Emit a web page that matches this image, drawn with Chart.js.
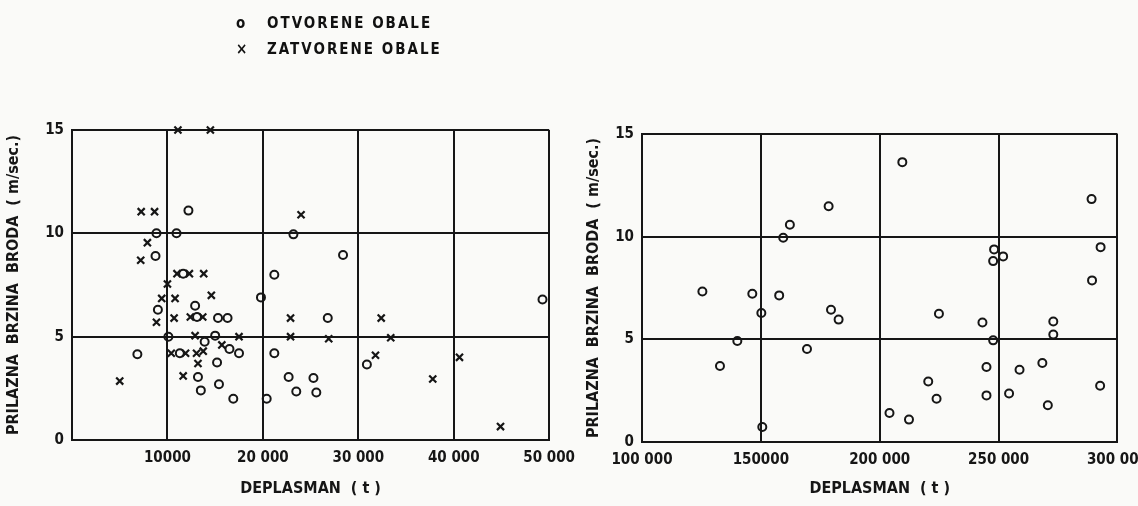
<!DOCTYPE html>
<html>
<head>
<meta charset="utf-8">
<script src="https://cdn.jsdelivr.net/npm/chart.js@4/dist/chart.umd.min.js"></script>
<style>
  body { margin: 0; background: #fafaf8; }
  #wrap { position: relative; width: 1138px; height: 506px; overflow: hidden; }
  #left { position: absolute; left: 0; top: 0; }
  #right { position: absolute; left: 580px; top: 0; }
  #legend {
    position: absolute; left: 236px; top: 10px;
    font: bold 15px 'Liberation Sans Narrow', 'DejaVu Sans Condensed', sans-serif;
    letter-spacing: 2px; color: #111; line-height: 26px;
  }
  #legend span { display: inline-block; width: 31px; }
</style>
</head>
<body>
<div id="wrap">
  <canvas id="left" width="584" height="506"></canvas>
  <canvas id="right" width="577" height="506"></canvas>
  <div id="legend">
    <div><span>o</span>OTVORENE OBALE</div>
    <div><span>×</span>ZATVORENE OBALE</div>
  </div>
</div>
<script>
'use strict'

// left panel: open coasts (circles)
const leftOpenX = [12200, 8850, 10950, 23200, 8750, 28400, 21200, 19800, 49300, 9000,
  12900, 15300, 16300, 26800, 10100, 15000, 13900, 16500, 17500, 21200,
  6850, 11300, 15200, 13200, 13500, 15400, 16900, 20400, 22700, 23500,
  25300, 25600, 30900, 11650, 13100]
const leftOpenY = [11.1, 10.0, 10.0, 9.95, 8.9, 8.95, 8.0, 6.9, 6.8, 6.3,
  6.5, 5.9, 5.9, 5.9, 5.0, 5.05, 4.75, 4.4, 4.2, 4.2,
  4.15, 4.2, 3.75, 3.05, 2.4, 2.7, 2.0, 2.0, 3.05, 2.35,
  3.0, 2.3, 3.65, 8.05, 5.95]

// left panel: closed coasts (crosses)
const leftClosedX = [11100, 14500, 7250, 8650, 24000, 7900, 7200, 10000, 9400, 10800,
  11000, 12300, 13800, 14600, 8850, 10700, 12400, 13700, 12900, 17500,
  15700, 10400, 11900, 13050, 13750, 13200, 11650, 5000, 22900, 22900,
  26900, 32400, 33400, 31800, 37800, 40600, 44900]
const leftClosedY = [15.0, 15.0, 11.05, 11.05, 10.9, 9.55, 8.7, 7.55, 6.85, 6.85,
  8.05, 8.05, 8.05, 7.0, 5.7, 5.9, 5.95, 5.95, 5.05, 5.0,
  4.6, 4.2, 4.2, 4.2, 4.3, 3.7, 3.1, 2.85, 5.9, 5.0,
  4.9, 5.9, 4.95, 4.1, 2.95, 4.0, 0.65]

// right panel: open coasts (circles)
const rightOpenX = [125400, 146400, 157700, 150200, 140100, 132800, 169400, 150600, 178500, 162200,
  159400, 179500, 182700, 209500, 289100, 292900, 289300, 248100, 247700, 251900,
  224900, 243200, 247700, 273000, 273000, 268400, 258800, 244900, 220400, 223900,
  244900, 254400, 270700, 292700, 204100, 212300]
const rightOpenY = [7.33, 7.22, 7.14, 6.28, 4.92, 3.7, 4.53, 0.73, 11.48, 10.58,
  9.95, 6.44, 5.96, 13.63, 11.83, 9.49, 7.87, 9.38, 8.81, 9.04,
  6.25, 5.82, 4.95, 5.87, 5.23, 3.85, 3.52, 3.65, 2.95, 2.11,
  2.27, 2.36, 1.79, 2.74, 1.41, 1.09]

const yTicks = [0, 5, 10, 15]
const leftXTicks = [0, 10000, 20000, 30000, 40000, 50000]
const leftXLabels = ['', '10000', '20 000', '30 000', '40 000', '50 000']
const rightXTicks = [100000, 150000, 200000, 250000, 300000]
const rightXLabels = ['100 000', '150000', '200 000', '250 000', '300 000']

const yTitle = 'PRILAZNA  BRZINA  BRODA  ( m/sec.)'
const xTitle = 'DEPLASMAN  ( t )'

const zip = (xs, ys) => xs.map((x, i) => ({ x: x, y: ys[i] }))

const ink = '#161616'
const fontFamily = "'Liberation Sans Narrow', 'DejaVu Sans Condensed', sans-serif"

const circleSet = data => ({
  data: data,
  clip: false,
  pointStyle: 'circle',
  pointRadius: 4,
  pointHoverRadius: 4,
  pointBorderWidth: 2,
  pointBorderColor: ink,
  pointBackgroundColor: 'rgba(0,0,0,0)'
})

const crossSet = data => ({
  data: data,
  clip: false,
  pointStyle: 'crossRot',
  pointRadius: 5,
  pointHoverRadius: 5,
  pointBorderWidth: 2.2,
  pointBorderColor: ink
})

const makeOptions = (xMin, xMax, xStep, xTicks, xLabels, yWidth, xHeight, pad) => ({
  responsive: false,
  animation: false,
  layout: { padding: pad },
  plugins: { legend: { display: false }, tooltip: { enabled: false } },
  scales: {
    x: {
      type: 'linear',
      min: xMin,
      max: xMax,
      ticks: {
        stepSize: xStep,
        color: ink,
        padding: 9,
        maxRotation: 0,
        font: { family: fontFamily, size: 15, weight: 'bold' },
        callback: v => xLabels[xTicks.indexOf(v)] ?? ''
      },
      grid: { color: ink, lineWidth: 2, drawTicks: false },
      border: { display: true, color: ink, width: 2 },
      title: {
        display: true,
        text: xTitle,
        color: ink,
        padding: { top: 4, bottom: 8 },
        font: { family: fontFamily, size: 16, weight: 'bold' }
      },
      afterFit: scale => { scale.height = xHeight }
    },
    y: {
      type: 'linear',
      min: 0,
      max: 15,
      ticks: {
        stepSize: 5,
        color: ink,
        padding: 8,
        font: { family: fontFamily, size: 15, weight: 'bold' },
        callback: v => (yTicks.includes(v) ? String(v) : '')
      },
      grid: { color: ink, lineWidth: 2, drawTicks: false },
      border: { display: true, color: ink, width: 2 },
      title: {
        display: true,
        text: yTitle,
        color: ink,
        padding: { top: 4, bottom: 4 },
        font: { family: fontFamily, size: 16, weight: 'bold' }
      },
      afterFit: scale => { scale.width = yWidth }
    }
  }
})

const leftChart = new Chart(document.getElementById('left'), {
  type: 'scatter',
  data: {
    datasets: [
      circleSet(zip(leftOpenX, leftOpenY)),
      crossSet(zip(leftClosedX, leftClosedY))
    ]
  },
  options: makeOptions(0, 50000, 10000, leftXTicks, leftXLabels, 72, 66,
    { top: 130, left: 0, right: 0, bottom: 0 })
})

const rightChart = new Chart(document.getElementById('right'), {
  type: 'scatter',
  data: {
    datasets: [circleSet(zip(rightOpenX, rightOpenY))]
  },
  options: makeOptions(100000, 300000, 50000, rightXTicks, rightXLabels, 62, 64,
    { top: 134, left: 0, right: 0, bottom: 0 })
})
</script>
</body>
</html>
